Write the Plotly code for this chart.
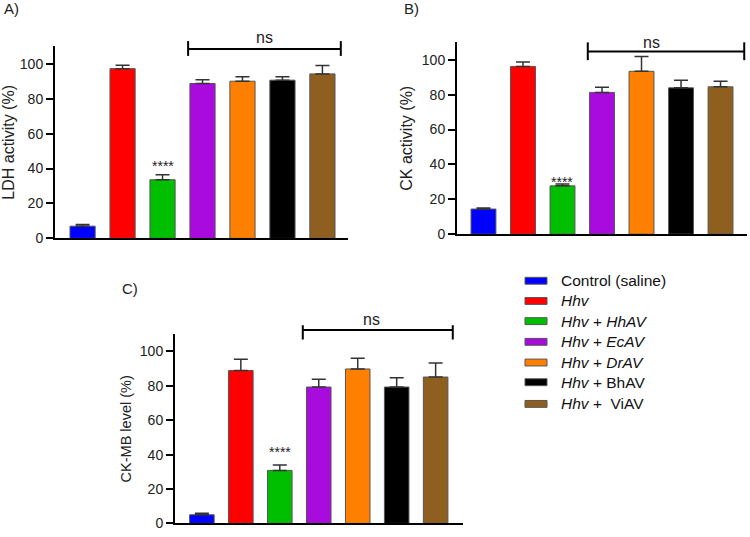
import plotly.graph_objects as go
import numpy as np

# ---------------- data ----------------
categories = ["Control (saline)", "Hhv", "Hhv + HhAV", "Hhv + EcAV",
              "Hhv + DrAV", "Hhv + BhAV", "Hhv + ViAV"]
legend_labels = ["Control (saline)", "<i>Hhv</i>", "<i>Hhv</i> + <i>HhAV</i>",
                 "<i>Hhv</i> + <i>EcAV</i>", "<i>Hhv</i> + <i>DrAV</i>",
                 "<i>Hhv</i> + BhAV", "<i>Hhv</i> +&nbsp; ViAV"]
colors = ["#0000FF", "#FF0000", "#00BE00", "#A90ADE", "#FF8000", "#000000", "#8F5F1F"]

ldh_mean = [7.0, 97.2, 33.6, 88.7, 90.0, 90.6, 94.2]
ldh_err = [0.9, 2.0, 2.8, 2.2, 2.6, 1.9, 4.8]
ck_mean = [14.4, 96.2, 27.7, 81.3, 93.4, 83.9, 84.5]
ck_err = [0.6, 2.5, 1.1, 3.0, 8.5, 4.4, 3.2]
ckmb_mean = [5.0, 88.9, 30.8, 79.3, 89.8, 79.3, 85.1]
ckmb_err = [0.9, 6.5, 3.1, 4.6, 6.2, 5.4, 8.2]

y_titles = ["LDH activity (%)", "CK activity (%)", "CK-MB level (%)"]
panel_labels = ["A)", "B)", "C)"]
y_tickvals = [0, 20, 40, 60, 80, 100]

# significance marks per panel: bracket (x0, x1, y, tick low, tick high), ns text (x, y), star y
brackets = [(2.64, 6.46, 108.5, 104.5, 113), (2.64, 6.6, 104.8, 99.8, 110), (2.59, 6.44, 112.5, 107, 115.3)]
ns_pos = [(4.54, 115.1), (4.25, 109.8), (4.36, 118.6)]
star_y = [41.7, 29.7, 41.3]

# ---------------- layout geometry ----------------
W, H = 750, 537
FONT = "Arial, Liberation Sans, sans-serif"
panels = [
    dict(xd=[55 / W, 348 / W], yd=[1 - 242 / H, 1 - 47 / H], xr=[-0.69, 6.64], tfs=16),
    dict(xd=[457 / W, 747 / W], yd=[1 - 237.7 / H, 1 - 43 / H], xr=[-0.67, 6.67], tfs=16),
    dict(xd=[175 / W, 463.3 / W], yd=[1 - 531.3 / H, 1 - 339.3 / H], xr=[-0.69, 6.71], tfs=14.5),
]
YR = [0, 110]

xpos = np.arange(len(categories))
means = [ldh_mean, ck_mean, ckmb_mean]
errs = [ldh_err, ck_err, ckmb_err]

fig = go.Figure()
shapes = []
annotations = []

def ypaper(v, p):
    d0, d1 = p["yd"]
    return d0 + (v - YR[0]) / (YR[1] - YR[0]) * (d1 - d0)

for i, p in enumerate(panels):
    sfx = "" if i == 0 else str(i + 1)
    fig.add_trace(go.Bar(
        x=xpos, y=means[i], width=0.63,
        marker=dict(color=colors, line=dict(color="#555555", width=1)),
        error_y=dict(type="data", array=errs[i], arrayminus=[0] * len(categories),
                     symmetric=False, color="#333333", thickness=1.5, width=7),
        hovertext=categories, xaxis="x" + sfx, yaxis="y" + sfx, showlegend=False,
    ))
    fig.layout["xaxis" + sfx] = dict(
        domain=p["xd"], range=p["xr"], anchor="y" + sfx, showline=True, linecolor="black",
        linewidth=2, ticks="", showticklabels=False, showgrid=False, zeroline=False,
    )
    fig.layout["yaxis" + sfx] = dict(
        domain=p["yd"], range=YR, anchor="x" + sfx, showline=True, linecolor="black",
        linewidth=2, ticks="outside", ticklen=7, tickwidth=2, tickcolor="black",
        tickvals=y_tickvals, showgrid=False, zeroline=False,
        tickfont=dict(family=FONT, size=14, color="#222"),
        title=dict(text=y_titles[i], font=dict(family=FONT, size=p["tfs"], color="#222"), standoff=5),
    )
    xr = "x" + sfx
    bx0, bx1, by, blo, bhi = brackets[i]
    line = dict(color="black", width=2)
    shapes.append(dict(type="line", xref=xr, yref="paper", x0=bx0, x1=bx1,
                       y0=ypaper(by, p), y1=ypaper(by, p), line=line))
    for bx in (bx0, bx1):
        shapes.append(dict(type="line", xref=xr, yref="paper", x0=bx, x1=bx,
                           y0=ypaper(blo, p), y1=ypaper(bhi, p), line=line))
    annotations.append(dict(text="ns", xref=xr, yref="paper", x=ns_pos[i][0],
                            y=ypaper(ns_pos[i][1], p), showarrow=False,
                            xanchor="center", yanchor="middle",
                            font=dict(family=FONT, size=16, color="#222")))
    annotations.append(dict(text="****", xref=xr, yref="paper", x=2,
                            y=ypaper(star_y[i], p), showarrow=False,
                            xanchor="center", yanchor="middle",
                            font=dict(family=FONT, size=14, color="#222")))

# panel labels
label_px = [(2, 9), (402, 9), (120, 293)]
for lab, (px, py) in zip(panel_labels, label_px):
    annotations.append(dict(text=lab, xref="paper", yref="paper", x=px / W, y=1 - py / H,
                            showarrow=False, xanchor="left", yanchor="middle",
                            font=dict(family=FONT, size=15, color="#222")))

# legend (drawn manually)
leg_y = [285, 305.5, 326, 347, 368, 388, 410]
for lab, col, py in zip(legend_labels, colors, leg_y):
    shapes.append(dict(type="rect", xref="paper", yref="paper",
                       x0=525 / W, x1=547 / W, y0=1 - (py + 3.5) / H, y1=1 - (py - 3.5) / H,
                       fillcolor=col, line=dict(color="#555555", width=1)))
    annotations.append(dict(text=lab, xref="paper", yref="paper", x=559 / W, y=1 - py / H,
                            showarrow=False, xanchor="left", yanchor="middle",
                            font=dict(family=FONT, size=15.5, color="#111")))

fig.update_layout(
    width=W, height=H, margin=dict(l=0, r=0, t=0, b=0),
    paper_bgcolor="white", plot_bgcolor="white", showlegend=False,
    shapes=shapes, annotations=annotations, bargap=0.3,
    font=dict(family=FONT),
)

fit_page = (
    "document.documentElement.style.margin='0';document.documentElement.style.padding='0';"
    "document.documentElement.style.overflow='hidden';document.documentElement.style.height='537px';"
    "document.body.style.margin='0';document.body.style.padding='0';"
    "document.body.style.overflow='hidden';document.body.style.height='537px';"
)
fig.write_html("out.html", post_script=fit_page, config={"displayModeBar": False})
